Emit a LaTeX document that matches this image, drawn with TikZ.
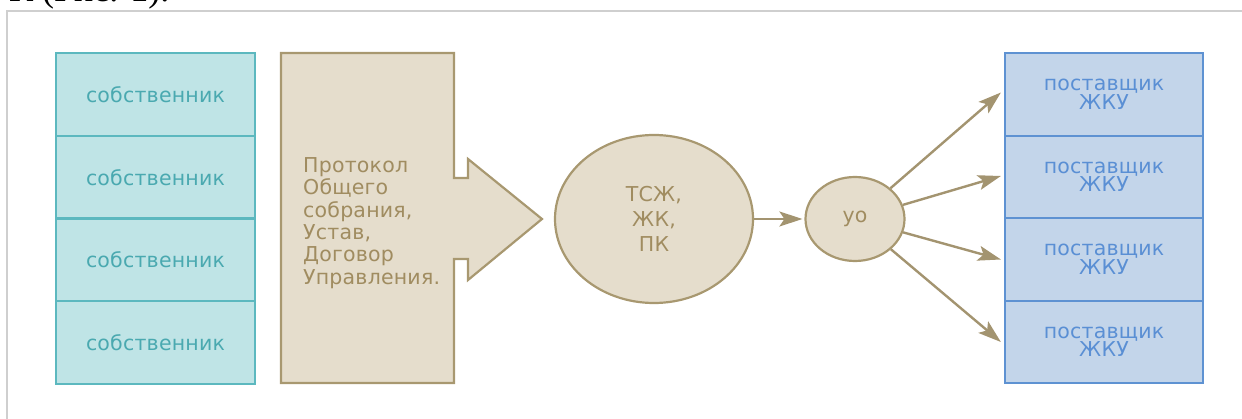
\documentclass[tikz,border=0pt]{standalone}
\usepackage{fontspec}
\setmainfont{DejaVu Sans}
\newfontfamily\serifcap{Liberation Serif}
\newfontfamily\diag[LetterSpace=1]{DejaVu Sans}
\usetikzlibrary{arrows.meta,shapes.geometric}
\definecolor{framec}{HTML}{CFCFCF}
\definecolor{tealfill}{HTML}{BFE4E6}
\definecolor{tealline}{HTML}{5CB8BF}
\definecolor{tealtext}{HTML}{4AA9B0}
\definecolor{tanfill}{HTML}{E5DDCC}
\definecolor{tanline}{HTML}{A89870}
\definecolor{tantext}{HTML}{A08C60}
\definecolor{bluefill}{HTML}{C3D5EA}
\definecolor{blueline}{HTML}{5E92D2}
\definecolor{bluetext}{HTML}{5A8FD4}
\definecolor{arrowc}{HTML}{A39470}
\tikzset{
  diagfont/.style={font=\diag\fontsize{20.5}{#1}\selectfont},
  ownerbox/.style={draw=tealline, fill=tealfill, line width=2.2pt, minimum width=199pt, minimum height=82.8pt, inner sep=0pt, text=tealtext, diagfont=20},
  supbox/.style={draw=blueline, fill=bluefill, line width=2.2pt, minimum width=198pt, minimum height=82.5pt, inner sep=0pt, text=bluetext, align=center, diagfont=18.5},
  orgell/.style={ellipse, draw=tanline, fill=tanfill, line width=2.2pt, inner sep=0pt, text=tantext, align=center},
  conn/.style={draw=arrowc, line width=2.4pt, -{Stealth[length=23pt,width=15pt,inset=5pt]}},
}
\begin{document}
\begin{tikzpicture}[x=1pt,y=-1pt]
\useasboundingbox (0,0) rectangle (1242,419);
% cut-off caption text at the top
\node[anchor=base west, inner sep=0pt, font=\serifcap\fontsize{36}{40}\selectfont] (cap) at (9,2) {К (Рис. 1).};
% frame
\draw[framec, line width=2pt] (7,440) -- (7,11) -- (1260,11);
% owners
\node[ownerbox] (o1) at (155.5,94.5) {собственник};
\node[ownerbox] (o2) at (155.5,177.2) {собственник};
\node[ownerbox] (o3) at (155.5,260) {собственник};
\node[ownerbox] (o4) at (155.5,342.7) {собственник};
% document arrow shape
\draw[draw=tanline, fill=tanfill, line width=2.2pt, line join=miter]
  (281,53) -- (454,53) -- (454,178) -- (468,178) -- (468,159) -- (542,219)
  -- (468,280) -- (468,259) -- (454,259) -- (454,383) -- (281,383) -- cycle;
\node[anchor=north west, inner sep=0pt, align=left, text=tantext, diagfont=22.3] (doc) at (303,157.5)
  {Протокол\\Общего\\собрания,\\Устав,\\Договор\\Управления.};
% TSJ ellipse
\node[orgell, minimum width=198pt, minimum height=168pt, diagfont=25] (tsj) at (654,219) {ТСЖ,\\ЖК,\\ПК};
% UO
\node[orgell, minimum width=99pt, minimum height=84pt, diagfont=18] (uo) at (855,219) {уо};
% suppliers
\node[supbox] (p1) at (1104,94.5) {поставщик\\ЖКУ};
\node[supbox] (p2) at (1104,177) {поставщик\\ЖКУ};
\node[supbox] (p3) at (1104,259.5) {поставщик\\ЖКУ};
\node[supbox] (p4) at (1104,342) {поставщик\\ЖКУ};
% connectors
\draw[conn, shorten >=2pt] (tsj) -- (uo);
\draw[conn] (uo) -- ([xshift=-3pt,yshift=2pt]p1.west);
\draw[conn] (uo) -- ([xshift=-3pt,yshift=1pt]p2.west);
\draw[conn] (uo) -- ([xshift=-3pt]p3.west);
\draw[conn] (uo) -- ([xshift=-3pt]p4.west);
\end{tikzpicture}
\end{document}
